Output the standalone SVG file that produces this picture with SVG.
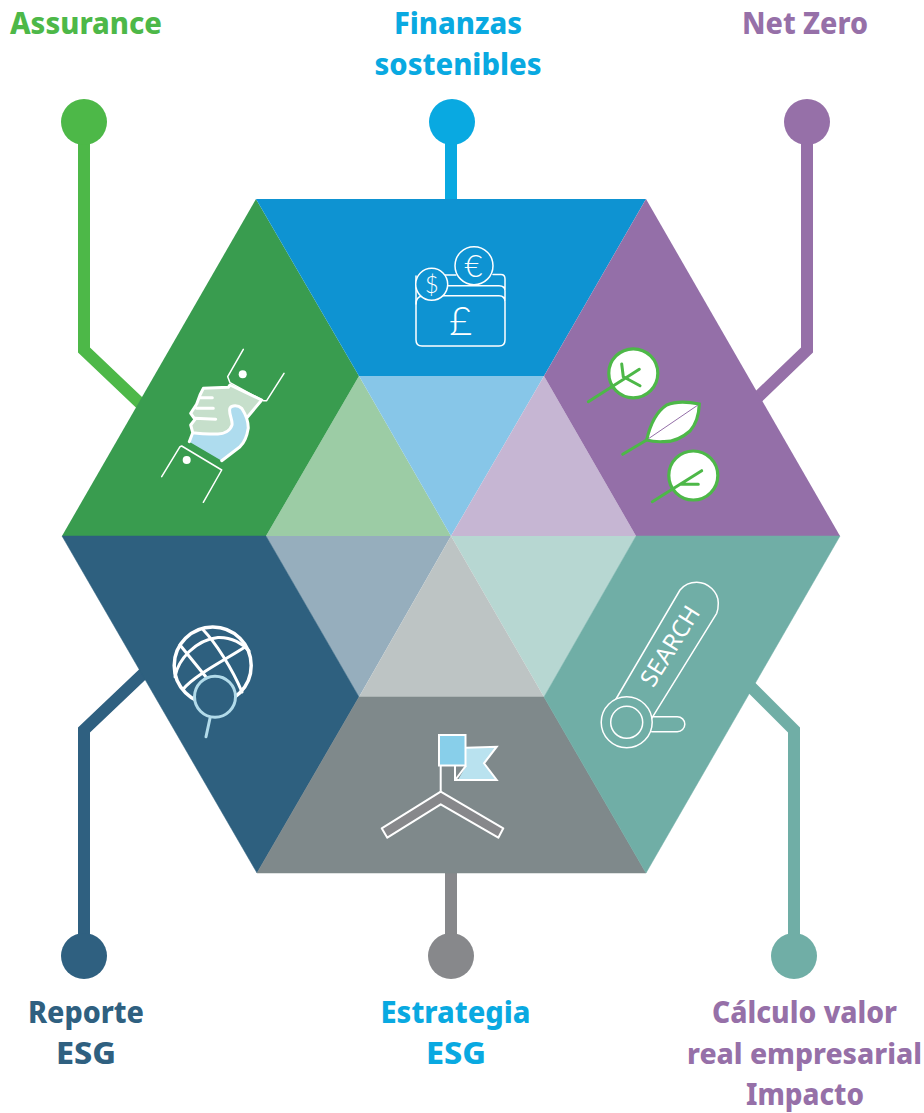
<svg xmlns="http://www.w3.org/2000/svg" width="924" height="1113" viewBox="0 0 924 1113">
<style>
.lbl{font-family:"Noto Sans","Open Sans","Liberation Sans",sans-serif;font-weight:800;font-size:29.5px;text-anchor:middle}
.conn{fill:none;stroke-width:12}
.w{fill:none;stroke:#fff;stroke-width:1.5;stroke-linecap:round;stroke-linejoin:round}
.w3{fill:none;stroke:#fff;stroke-width:3;stroke-linecap:round;stroke-linejoin:round}
.g{fill:#fff;stroke:#4db848;stroke-width:3.2}
.gl{fill:none;stroke:#4db848;stroke-width:3;stroke-linecap:round;stroke-linejoin:round}
.sym{font-family:Lato,"Open Sans",sans-serif;font-weight:300;fill:#fff;text-anchor:middle}
</style>
<rect width="924" height="1113" fill="#fff"/>
<g id="connectors">
<path class="conn" stroke="#4db848" d="M84 122V350L145 408"/>
<path class="conn" stroke="#09a9e1" d="M451 122V205"/>
<path class="conn" stroke="#9670a8" d="M807 122V350L755 400"/>
<path class="conn" stroke="#2f6080" d="M84 956V730L145 672"/>
<path class="conn" stroke="#87888b" d="M451 956V870"/>
<path class="conn" stroke="#70aea6" d="M794 956V730L750 686"/>
</g>
<g id="hexagon-inner">
<polygon points="359,376 451,536 266,536" fill="#9ccca5"/>
<polygon points="359,376 544,376 451,536" fill="#87c6e8"/>
<polygon points="544,376 636,536 451,536" fill="#c6b6d3"/>
<polygon points="266,536 451,536 359,697" fill="#96aebd"/>
<polygon points="451,536 636,536 544,697" fill="#b7d7d2"/>
<polygon points="451,536 544,697 359,697" fill="#bdc4c4"/>
</g>
<g id="assurance">
<polygon points="256,199 359,376 266,536 62,536" fill="#399c4f"/>
<path d="M230 385L261.700 400 246.700 418 241.700 408.300C238 405 232 405 230 408 228 413 233 420 232 425 230 431 224 434 218 434 208 434 200 434 192.700 432.700L190.700 425 195 419.300 190.700 413.300 196.700 404 200 395 203.300 388.300 228.300 387.300Z" fill="#c6dfcb"/>
<path d="M192.700 432.700C200 434 208 434 218 434 224 434 230 431 232 425 233 420 228 413 230 408 232 405 238 405 241.700 408.300 246 415 248.300 422 248.300 428 247 436 244 443 240 446.700L221.700 460.700 189.300 441.700Z" fill="#aedcee"/>
<path class="w3" d="M189.300 441.700L192.700 432.700 190.700 425 195 419.300 190.700 413.300 196.700 404 200 395 203.300 388.300 228.300 387.300 230 385 261.700 400 246.700 418M192.700 432.700C200 434 208 434 218 434 224 434 230 431 232 425 233 420 228 413 230 408 232 405 238 405 241.700 408.300 246 415 248.300 422 248.300 428 247 436 244 443 240 446.700L221.700 460.700M200 397.700H212.300M196.700 408.300H213.300M195 418.300L215.700 419.300"/>
<path class="w" d="M243.300 349.300L227.700 376.700 230 382.700 263.300 400.700 266.700 400.700 284 373.300M161.700 476.700L180 446.700 181.700 446 221.700 470 203.300 502.300"/>
<circle cx="242.700" cy="374.300" r="4" fill="#fff"/>
<circle cx="186.700" cy="460" r="4" fill="#fff"/>
</g>
<g id="finanzas">
<polygon points="256,199 646,199 544,376 359,376" fill="#0e93d2"/>
<path class="w" d="M445 275H456M493 274.500H501Q505 274.500 505 279V290M445 285.700H499Q505 285.700 505 291V301M435 295.700H499Q505 295.700 505 302V340Q505 346 499 346H422Q416 346 416 340V276"/>
<path class="w" d="M416 304Q416 297 422 296"/>
<circle cx="431.700" cy="284.300" r="16" fill="#0e93d2" stroke="#fff" stroke-width="1.5"/>
<circle cx="474" cy="265.700" r="19" fill="#0e93d2" stroke="#fff" stroke-width="1.5"/>
<text class="sym" x="431.700" y="293" font-size="24">$</text>
<text class="sym" x="473.500" y="277" font-size="31">€</text>
<text class="sym" x="460.500" y="334.500" font-size="40">£</text>
</g>
<g id="netzero">
<polygon points="646,199 840,536 636,536 544,376" fill="#946fa8"/>
<circle cx="633.300" cy="373.300" r="24.500" class="g"/>
<path class="gl" d="M588.300 401.700L639.300 369.300M621.700 364L623.300 376.700 640 385.700"/>
<path class="g" d="M646.700 440C650 425 656 412 666.700 405 678 400 690 402 699.300 404 699 413 697 423 690 431 682 438 672 442 663 441.700 656 442 650 441 646.700 440Z"/>
<path d="M648 439L698 405" stroke="#946fa8" stroke-width="1" fill="none"/>
<path class="gl" d="M622.700 454.300L646.700 440"/>
<circle cx="693.300" cy="475.500" r="24.500" class="g"/>
<path class="gl" d="M652.300 501.700L701.700 470.700M680 484.300L698.300 484.300"/>
</g>
<g id="reporte">
<polygon points="62,536 266,536 359,697 257,873" fill="#2e607f" stroke="#2e607f" stroke-width=".5"/>
<circle cx="212.700" cy="665.500" r="38.500" fill="none" stroke="#fff" stroke-width="3.500"/>
<path class="w3" d="M180 645L206 677M203.300 630C215 642 232 668 242 692M175 676.700C178 660 195 640 218 637.500 232 637 243 644 249 651M183.300 689C195 675 225 660 245 647"/>
<circle cx="215" cy="696.700" r="20.500" fill="#2e607f" stroke="#b2dbea" stroke-width="3"/>
<path d="M210 718.300L206 736.700" stroke="#b2dbea" stroke-width="3" stroke-linecap="round"/>
</g>
<g id="estrategia">
<polygon points="359,697 544,697 646,873 257,873" fill="#7f898b" stroke="#7f898b" stroke-width=".5"/>
<path d="M440.700 791.700L503.300 828.300 498.300 837.700 440.700 804.300 387.300 837.700 381.700 828.300Z" fill="#87888b" stroke="#fff" stroke-width="2" stroke-linejoin="round"/>
<path d="M440.700 791.700V765" class="w" style="stroke-width:2"/>
<polygon points="466,747.700 496.700,746.700 484,763.300 496.700,780 458,780 466,766" fill="#b9e2ef"/>
<path d="M466 747.700L496.700 746.700 484 763.300 496.700 780H455V765.700M456 779L466 765.700" fill="none" stroke="#fff" stroke-width="2"/>
<rect x="439" y="735" width="26.500" height="30.500" fill="#88cfea" stroke="#fff" stroke-width="2"/>
</g>
<g id="calculo">
<polygon points="636,536 840,536 646,873 544,697" fill="#70aea6" stroke="#70aea6" stroke-width=".5"/>
<path class="w" d="M616 699L680 590C685 584 691 582.300 696.700 582.300 708 582.300 718.300 592 718.300 603 718.300 607 718 610 716.700 613.300L651.700 718.300"/>
<path class="w" d="M653.300 716.700H677.300A7.500 7.500 0 0 1 677.300 731.700H651.700"/>
<circle cx="626.700" cy="722.300" r="25.500" fill="#70aea6" stroke="#fff" stroke-width="1.500"/>
<circle cx="626.700" cy="722.300" r="16" fill="none" stroke="#fff" stroke-width="1.500"/>
<text x="671.700" y="647" transform="rotate(-58 671.700 647)" font-family="'Noto Sans','Open Sans',sans-serif" font-size="24" fill="#fff" text-anchor="middle" dominant-baseline="middle">SEARCH</text>
</g>
<g id="labels">
<text class="lbl" x="86" y="34" fill="#4db848" textLength="152" lengthAdjust="spacingAndGlyphs">Assurance</text>
<text class="lbl" x="458" y="34" fill="#09a9e1" textLength="128" lengthAdjust="spacingAndGlyphs">Finanzas</text>
<text class="lbl" x="458" y="75" fill="#09a9e1" textLength="167" lengthAdjust="spacingAndGlyphs">sostenibles</text>
<text class="lbl" x="805" y="34" fill="#9670a8" textLength="126" lengthAdjust="spacingAndGlyphs">Net Zero</text>
<text class="lbl" x="86" y="1023" fill="#2f6080" textLength="116" lengthAdjust="spacingAndGlyphs">Reporte</text>
<text class="lbl" x="86" y="1064" fill="#2f6080" textLength="60" lengthAdjust="spacingAndGlyphs">ESG</text>
<text class="lbl" x="455.500" y="1023" fill="#09a9e1" textLength="150" lengthAdjust="spacingAndGlyphs">Estrategia</text>
<text class="lbl" x="456" y="1064" fill="#09a9e1" textLength="60" lengthAdjust="spacingAndGlyphs">ESG</text>
<text class="lbl" x="804.500" y="1023" fill="#9670a8" textLength="185" lengthAdjust="spacingAndGlyphs">Cálculo valor</text>
<text class="lbl" x="804.500" y="1064" fill="#9670a8" style="font-size:28.3px">real empresarial</text>
<text class="lbl" x="805" y="1105" fill="#9670a8" textLength="118" lengthAdjust="spacingAndGlyphs">Impacto</text>
</g>
<g id="dots">
<circle cx="84" cy="122" r="23" fill="#4db848"/>
<circle cx="452" cy="122" r="23" fill="#09a9e1"/>
<circle cx="807" cy="122" r="23" fill="#9670a8"/>
<circle cx="84" cy="956" r="23" fill="#2f6080"/>
<circle cx="451" cy="956" r="23" fill="#87888b"/>
<circle cx="794" cy="956" r="23" fill="#70aea6"/>
</g>
</svg>
